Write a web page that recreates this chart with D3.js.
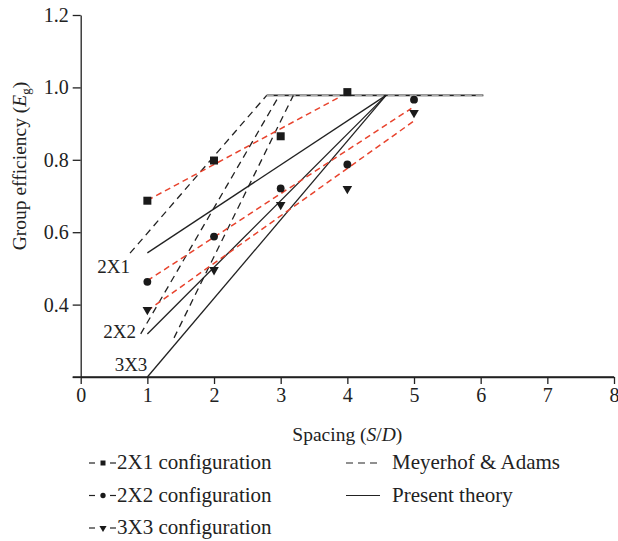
<!DOCTYPE html>
<html>
<head>
<meta charset="utf-8">
<script src="https://cdn.jsdelivr.net/npm/d3@7"></script>
<style>
  html, body { margin: 0; padding: 0; background: #fff; }
  svg text { font-family: "Liberation Serif", "Times New Roman", serif; fill: #222; }
</style>
</head>
<body>
<svg id="chart" width="618" height="541"></svg>
<script>
// Measured group efficiency for each pile group configuration
const spacing2x1 = [1, 2, 3, 4];
const eff2x1 = [0.687, 0.798, 0.865, 0.987];
const spacing2x2 = [1, 2, 3, 4, 5];
const eff2x2 = [0.463, 0.588, 0.721, 0.787, 0.966];
const spacing3x3 = [1, 2, 3, 4, 5];
const eff3x3 = [0.386, 0.496, 0.676, 0.720, 0.930];

// Trend lines through the measured points [spacing, efficiency]
const fit2x1 = [[1, 0.688], [3.89, 0.974]];
const fit2x2 = [[1, 0.466], [4.96, 0.942]];
const fit3x3 = [[1, 0.383], [4.99, 0.906]];

// Meyerhof & Adams predictions
const meyerhof2x1 = [[0.74, 0.542], [2.79, 0.978]];
const meyerhof2x2 = [[0.90, 0.319], [2.98, 0.978]];
const meyerhof3x3 = [[1.40, 0.308], [3.19, 0.978]];

// Present theory predictions
const theory2x1 = [[1, 0.543], [4.58, 0.978]];
const theory2x2 = [[1, 0.319], [4.58, 0.978]];
const theory3x3 = [[1, 0.2], [4.58, 0.978]];

// Limiting efficiency plateau shared by both methods
const plateau = [[2.79, 0.978], [6.04, 0.978]];

// Group labels placed at the start of the curves
const groupLabels = ["2X1", "2X2", "3X3"];
const groupLabelPos = [[0.74, 0.47], [0.83, 0.29], [1.0, 0.2]];

const xTicks = [0, 1, 2, 3, 4, 5, 6, 7, 8];
const yTicks = [0.2, 0.4, 0.6, 0.8, 1.0, 1.2];

const svg = d3.select("#chart");
const x = d3.scaleLinear().domain([0, 8]).range([80.7, 614]);
const y = d3.scaleLinear().domain([0.2, 1.2]).range([377, 15]);

const ink = "#222";
const red = "#e8432d";
const tickFont = 20;
const titleFont = 19.5;
const legendFont = 21;
const labelFont = 19;

const line = d3.line().x(d => x(d[0])).y(d => y(d[1]));

// Axes
const xAxis = svg.append("g")
  .attr("transform", `translate(0,${y(0.2)})`)
  .call(d3.axisBottom(x).tickValues(xTicks).tickSize(7).tickSizeOuter(0).tickFormat(d3.format("d")));
const yAxis = svg.append("g")
  .attr("transform", `translate(${x(0)},0)`)
  .call(d3.axisLeft(y).tickValues(yTicks).tickSize(8).tickSizeOuter(0)
    .tickFormat(d => d === 0.2 ? "" : d3.format(".1f")(d)));
[xAxis, yAxis].forEach(g => {
  g.select(".domain").attr("stroke", ink).attr("stroke-width", 1.3);
  g.selectAll(".tick line").attr("stroke", ink).attr("stroke-width", 1.3);
  g.selectAll(".tick text").attr("fill", ink).style("font-size", tickFont + "px")
    .style("font-family", '"Liberation Serif", serif');
});
xAxis.selectAll(".tick text").attr("dy", "0.71em").attr("y", 11);
yAxis.selectAll(".tick text").attr("x", -12);
// extend baseline to meet the left ticks
svg.append("line")
  .attr("x1", x(0) - 8).attr("x2", x(8))
  .attr("y1", y(0.2)).attr("y2", y(0.2))
  .attr("stroke", ink).attr("stroke-width", 1.3);

// Axis titles
svg.append("text")
  .attr("x", (x(0) + x(8)) / 2).attr("y", 441)
  .attr("text-anchor", "middle").style("font-size", titleFont + "px")
  .html('Spacing (<tspan font-style="italic">S</tspan>/<tspan font-style="italic">D</tspan>)');
svg.append("text")
  .attr("transform", "translate(26,166) rotate(-90)")
  .attr("text-anchor", "middle").style("font-size", titleFont + "px")
  .html('Group efficiency (<tspan font-style="italic">E</tspan><tspan font-size="13px" dy="4">g</tspan><tspan dy="-4">)</tspan>');

// Plateau: solid theory line under a lighter dashed Meyerhof line
svg.append("path").datum(plateau).attr("d", line)
  .attr("fill", "none").attr("stroke", ink).attr("stroke-width", 1.6);
svg.append("path").datum(plateau).attr("d", line)
  .attr("fill", "none").attr("stroke", "#aaa").attr("stroke-width", 1.1)
  .attr("stroke-dasharray", "7,4");

// Meyerhof & Adams dashed lines
[meyerhof2x1, meyerhof2x2, meyerhof3x3].forEach(d => {
  svg.append("path").datum(d).attr("d", line)
    .attr("fill", "none").attr("stroke", ink).attr("stroke-width", 1.3)
    .attr("stroke-dasharray", "7,5");
});

// Present theory solid lines
[theory2x1, theory2x2, theory3x3].forEach(d => {
  svg.append("path").datum(d).attr("d", line)
    .attr("fill", "none").attr("stroke", ink).attr("stroke-width", 1.3);
});

// Trend lines through test results
[fit2x1, fit2x2, fit3x3].forEach(d => {
  svg.append("path").datum(d).attr("d", line)
    .attr("fill", "none").attr("stroke", red).attr("stroke-width", 1.5)
    .attr("stroke-dasharray", "6,4");
});

// Markers
const sq = d3.symbol().type(d3.symbolSquare).size(64);
const ci = d3.symbol().type(d3.symbolCircle).size(48);
const tri = d3.symbol().type(d3.symbolTriangle).size(40);

svg.append("g").selectAll("path").data(spacing2x1.map((s, i) => [s, eff2x1[i]]))
  .join("path").attr("d", sq)
  .attr("transform", d => `translate(${x(d[0])},${y(d[1])})`).attr("fill", "#1a1a1a");
svg.append("g").selectAll("path").data(spacing2x2.map((s, i) => [s, eff2x2[i]]))
  .join("path").attr("d", ci)
  .attr("transform", d => `translate(${x(d[0])},${y(d[1])})`).attr("fill", "#1a1a1a");
svg.append("g").selectAll("path").data(spacing3x3.map((s, i) => [s, eff3x3[i]]))
  .join("path").attr("d", tri)
  .attr("transform", d => `translate(${x(d[0])},${y(d[1])}) rotate(180)`).attr("fill", "#1a1a1a");

// Group labels
svg.append("g").selectAll("text").data(groupLabels)
  .join("text")
  .attr("x", (d, i) => x(groupLabelPos[i][0]))
  .attr("y", (d, i) => y(groupLabelPos[i][1]) - 6)
  .attr("text-anchor", "end").style("font-size", labelFont + "px")
  .text(d => d);

// Legend
const legendRows = ["2X1 configuration", "2X2 configuration", "3X3 configuration"];
const legendSymbols = [sq, ci, tri];
const legendSymbolSize = [25, 22, 22];
const rowY = [469, 501.5, 534];
const lg = svg.append("g");
legendRows.forEach((label, i) => {
  const cy = rowY[i] - 6;
  lg.append("line").attr("x1", 89).attr("x2", 95).attr("y1", cy).attr("y2", cy)
    .attr("stroke", ink).attr("stroke-width", 1.2);
  lg.append("line").attr("x1", 110).attr("x2", 116).attr("y1", cy).attr("y2", cy)
    .attr("stroke", ink).attr("stroke-width", 1.2);
  lg.append("path")
    .attr("d", legendSymbols[i].size(legendSymbolSize[i])())
    .attr("transform", `translate(103,${cy})` + (i === 2 ? " rotate(180)" : ""))
    .attr("fill", "#1a1a1a");
  lg.append("text").attr("x", 117).attr("y", rowY[i])
    .style("font-size", legendFont + "px").text(label);
});
const methodRows = ["Meyerhof & Adams", "Present theory"];
methodRows.forEach((label, i) => {
  const cy = rowY[i] - 6;
  lg.append("line").attr("x1", 346).attr("x2", 380).attr("y1", cy).attr("y2", cy)
    .attr("stroke", ink).attr("stroke-width", 1.2)
    .attr("stroke-dasharray", i === 0 ? "7,5" : null);
  lg.append("text").attr("x", 392).attr("y", rowY[i])
    .style("font-size", legendFont + "px").text(label);
});
</script>
</body>
</html>
